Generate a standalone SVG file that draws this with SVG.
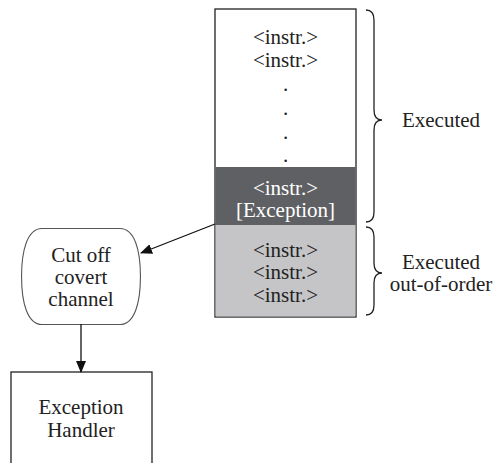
<svg xmlns="http://www.w3.org/2000/svg" width="493" height="463" viewBox="0 0 493 463">
<style>
text{font-family:"Liberation Serif","Times New Roman",serif;font-size:21px;fill:#222;text-anchor:middle;dominant-baseline:central}
.w{fill:#fff}
.box{stroke:#222;stroke-width:1.3}
.brace{fill:none;stroke:#222;stroke-width:1.3}
.conn{stroke:#111;stroke-width:1.3;fill:none}
</style>
<defs>
<marker id="ah" viewBox="0 0 12 10" refX="11" refY="5" markerWidth="12" markerHeight="10" markerUnits="userSpaceOnUse" orient="auto">
<path d="M0,0 L12,5 L0,10 Z" fill="#111"/>
</marker>
<path id="cutshape" d="M42,230 L120,230 C133,230 139,250 139,276.5 C139,303 133,323 120,323 L42,323 C29,323 23,303 23,276.5 C23,250 29,230 42,230 Z"/>
</defs>
<g id="stack">
<rect class="box" x="215" y="9" width="141" height="308" fill="#fff"/>
<rect x="215.6" y="167" width="139.8" height="58" fill="#5f6064"/>
<rect x="215.6" y="225" width="139.8" height="91.4" fill="#c5c5c7"/>
<text x="285.5" y="37">&lt;instr.&gt;</text>
<text x="285.5" y="60">&lt;instr.&gt;</text>
<text x="285.5" y="84">.</text>
<text x="285.5" y="108">.</text>
<text x="285.5" y="132">.</text>
<text x="285.5" y="155">.</text>
<text class="w" x="285.5" y="188">&lt;instr.&gt;</text>
<text class="w" x="285.5" y="210">[Exception]</text>
<text x="285.5" y="250">&lt;instr.&gt;</text>
<text x="285.5" y="272">&lt;instr.&gt;</text>
<text x="285.5" y="295">&lt;instr.&gt;</text>
</g>
<g id="brace-executed">
<path class="brace" d="M366,10 Q374,10 374,20 L374,110 Q374,120 382,120 Q374,120 374,130 L374,212 Q374,222 366,222"/>
<text x="441" y="120">Executed</text>
</g>
<g id="brace-ooo">
<path class="brace" d="M366,227 Q374,227 374,237 L374,263 Q374,273 382,273 Q374,273 374,283 L374,305 Q374,315 366,315"/>
<text x="441" y="262">Executed</text>
<text x="441" y="284">out-of-order</text>
</g>
<g id="cutoff">
<use href="#cutshape" fill="#fff" stroke="#555" stroke-width="4"/>
<use href="#cutshape" fill="#fff" stroke="#fff" stroke-width="1.8"/>
<text x="81" y="255">Cut off</text>
<text x="81" y="277">covert</text>
<text x="81" y="299">channel</text>
</g>
<g id="handler">
<rect class="box" x="11" y="372" width="141" height="100" fill="#fff"/>
<text x="81" y="407">Exception</text>
<text x="81" y="430">Handler</text>
</g>
<g id="connectors">
<line class="conn" x1="215" y1="224" x2="141" y2="253" marker-end="url(#ah)"/>
<line class="conn" x1="81" y1="324" x2="81" y2="372" marker-end="url(#ah)"/>
</g>
</svg>
